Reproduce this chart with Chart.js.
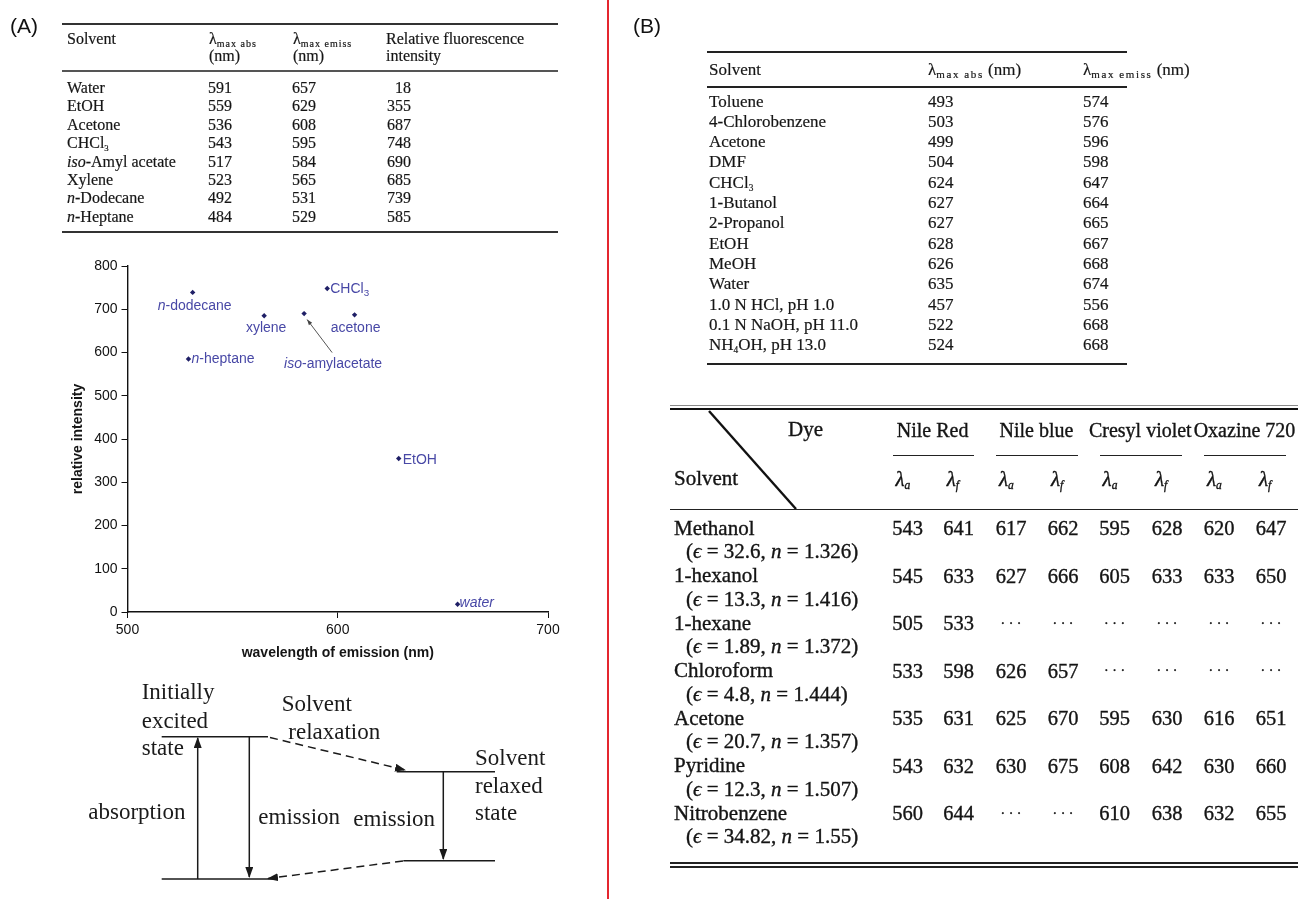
<!DOCTYPE html>
<html>
<head>
<meta charset="utf-8">
<title>Solvatochromism of Nile red type dyes</title>
<script src="https://cdn.jsdelivr.net/npm/chart.js@4.4.1/dist/chart.umd.min.js"></script>
<style>
  html, body { margin: 0; padding: 0; background: #fff; }
  body { position: relative; width: 1298px; height: 899px; overflow: hidden; color: #151515; font-family: "Liberation Serif", "Times New Roman", serif; }
  .t { position: absolute; white-space: nowrap; }
  .t sub { font-size: 0.55em; line-height: 0; vertical-align: -0.3em; }
  .t sub.wa { font-size: 10px; letter-spacing: 1px; vertical-align: -3px; }
  .t sub.wb { font-size: 11px; letter-spacing: 1.6px; vertical-align: -3px; }
  .heavy { -webkit-text-stroke: 0.35px #111; }
  .mid { -webkit-text-stroke: 0.2px #222; }
  .rule { position: absolute; }
  #chartBox { position: absolute; left: 40px; top: 250px; width: 530px; height: 420px; }
  #divider { position: absolute; left: 607px; top: 0; width: 2px; height: 899px; background: #e4262f; }
  svg { position: absolute; left: 0; top: 0; }
</style>
</head>
<body>
<div id="divider"></div>
<div id="chartBox"><canvas id="scatter"></canvas></div>

<svg width="1298" height="899" viewBox="0 0 1298 899">
  <defs>
    <marker id="head" markerWidth="11" markerHeight="8" refX="10" refY="4" orient="auto" markerUnits="userSpaceOnUse">
      <path d="M0,0 L11,4 L0,8 z" fill="#1a1a1a"/>
    </marker>
  </defs>
  <g stroke="#1a1a1a" stroke-width="1.5" fill="none">
    <path d="M161.7 736.7 H268"/>
    <path d="M161.7 879 H273"/>
    <path d="M396.7 771.7 H495"/>
    <path d="M403.3 860.7 H495"/>
    <path d="M197.7 879 V738" marker-end="url(#head)"/>
    <path d="M249.3 737 V877" marker-end="url(#head)"/>
    <path d="M443.3 771.7 V859" marker-end="url(#head)"/>
    <path d="M270 737.5 L405 770" stroke-dasharray="8 5" marker-end="url(#head)"/>
    <path d="M403 861 L268 878.5" stroke-dasharray="8 5" marker-end="url(#head)"/>
  </g>
  <g font-family="Liberation Serif, Times New Roman, serif" font-size="23" fill="#1a1a1a" dominant-baseline="central">
    <text x="141.7" y="691.7">Initially</text>
    <text x="141.7" y="720">excited</text>
    <text x="141.7" y="747.3">state</text>
    <text x="281.7" y="703.3">Solvent</text>
    <text x="288.3" y="731">relaxation</text>
    <text x="88.3" y="811.7">absorption</text>
    <text x="258.3" y="816.7">emission</text>
    <text x="353.3" y="818.3">emission</text>
    <text x="475" y="757.3">Solvent</text>
    <text x="475" y="785">relaxed</text>
    <text x="475" y="812.7">state</text>
  </g>
</svg>

<script>
// ---- (A) table + scatter data ----
const solventsA = ['Water', 'EtOH', 'Acetone', 'CHCl<sub>3</sub>', '<i>iso</i>-Amyl acetate', 'Xylene', '<i>n</i>-Dodecane', '<i>n</i>-Heptane'];
const absA = [591, 559, 536, 543, 517, 523, 492, 484];
const emissA = [657, 629, 608, 595, 584, 565, 531, 529];
const intensityA = [18, 355, 687, 748, 690, 685, 739, 585];
// labels on the scatter (*..* = italic, _x = subscript)
const pointLabels = ['*water*', 'EtOH', 'acetone', 'CHCl_3', '*iso*-amylacetate', 'xylene', '*n*-dodecane', '*n*-heptane'];
const xRange = [500, 700, 100];
const yRange = [0, 800, 100];

// ---- (B) first table ----
const solventsB = ['Toluene', '4-Chlorobenzene', 'Acetone', 'DMF', 'CHCl<sub>3</sub>', '1-Butanol', '2-Propanol', 'EtOH', 'MeOH', 'Water', '1.0 N HCl, pH 1.0', '0.1 N NaOH, pH 11.0', 'NH<sub>4</sub>OH, pH 13.0'];
const absB = [493, 503, 499, 504, 624, 627, 627, 628, 626, 635, 457, 522, 524];
const emissB = [574, 576, 596, 598, 647, 664, 665, 667, 668, 674, 556, 668, 668];

// ---- (B) second table ----
const dyes = ['Nile Red', 'Nile blue', 'Cresyl violet', 'Oxazine 720'];
const solventsC = ['Methanol', '1-hexanol', '1-hexane', 'Chloroform', 'Acetone', 'Pyridine', 'Nitrobenzene'];
const epsC = [32.6, 13.3, 1.89, 4.8, 20.7, 12.3, 34.82];
const nC = [1.326, 1.416, 1.372, 1.444, 1.357, 1.507, 1.55];
const nileRedA = [543, 545, 505, 533, 535, 543, 560];
const nileRedF = [641, 633, 533, 598, 631, 632, 644];
const nileBlueA = [617, 627, null, 626, 625, 630, null];
const nileBlueF = [662, 666, null, 657, 670, 675, null];
const cresylA = [595, 605, null, null, 595, 608, 610];
const cresylF = [628, 633, null, null, 630, 642, 638];
const oxazineA = [620, 633, null, null, 616, 630, 632];
const oxazineF = [647, 650, null, null, 651, 660, 655];

const SERIF = '"Liberation Serif", "Times New Roman", serif';
const SANS = '"Liberation Sans", Arial, sans-serif';

function put(x, yc, html, o) {
  o = o || {};
  const size = o.size || 15;
  const d = document.createElement('div');
  d.className = 't' + (o.cls ? ' ' + o.cls : '');
  d.style.font = (o.style || '') + ' ' + (o.weight || 'normal') + ' ' + size + 'px ' + (o.family || SERIF);
  d.style.lineHeight = (size * 1.2) + 'px';
  d.style.left = x + 'px';
  d.style.top = (yc - size * 0.6) + 'px';
  if (o.align === 'center') d.style.transform = 'translateX(-50%)';
  if (o.align === 'right') d.style.transform = 'translateX(-100%)';
  if (o.color) d.style.color = o.color;
  d.innerHTML = html;
  document.body.appendChild(d);
  return d;
}

function rule(x, y, w, h, color) {
  const d = document.createElement('div');
  d.className = 'rule';
  d.style.left = x + 'px';
  d.style.top = (y - h / 2) + 'px';
  d.style.width = w + 'px';
  d.style.height = h + 'px';
  d.style.background = color || '#222';
  document.body.appendChild(d);
}

// panel letters
put(10, 26, '(A)', { size: 21, family: SANS, color: '#111' });
put(633, 26, '(B)', { size: 21, family: SANS, color: '#111' });

// ---- table A ----
rule(62, 24, 496, 1.6, '#333');
rule(62, 71, 496, 1.3, '#555');
rule(62, 232, 496, 2, '#333');
const A = { size: 16, cls: 'mid' };
put(67, 39, 'Solvent', A);
put(209, 39, 'λ<sub class="wa">max abs</sub>', A);
put(209, 56, '(nm)', A);
put(293, 39, 'λ<sub class="wa">max emiss</sub>', A);
put(293, 56, '(nm)', A);
put(386, 39, 'Relative fluorescence', A);
put(386, 56, 'intensity', A);
solventsA.forEach((s, i) => {
  const y = 87.5 + i * 18.4;
  put(67, y, s, A);
  put(208, y, String(absA[i]), A);
  put(292, y, String(emissA[i]), A);
  put(411, y, String(intensityA[i]), { size: 16, cls: 'mid', align: 'right' });
});

// ---- table B (top) ----
rule(707, 52, 420, 2, '#222');
rule(707, 87, 420, 2, '#222');
rule(707, 364, 420, 2, '#222');
const B = { size: 17, cls: 'mid' };
put(709, 70, 'Solvent', B);
put(928, 70, 'λ<sub class="wb">max abs</sub> (nm)', B);
put(1083, 70, 'λ<sub class="wb">max emiss</sub> (nm)', B);
solventsB.forEach((s, i) => {
  const y = 101.7 + i * 20.3;
  put(709, y, s, B);
  put(928, y, String(absB[i]), B);
  put(1083, y, String(emissB[i]), B);
});

// ---- table B (bottom) ----
const colC = [907.5, 958.7, 1011, 1063, 1114.6, 1167, 1219, 1271];
const dyeCols = [nileRedA, nileRedF, nileBlueA, nileBlueF, cresylA, cresylF, oxazineA, oxazineF];
const C = { size: 21, cls: 'heavy' };
rule(670, 405.5, 628, 1, '#8a8a8a');
rule(670, 409, 628, 2.6, '#111');
rule(670, 509.5, 628, 1.6, '#222');
rule(670, 862.5, 628, 2, '#222');
rule(670, 866.5, 628, 2, '#222');
put(788, 430, 'Dye', C);
put(674, 479, 'Solvent', C);
dyes.forEach((d, k) => {
  const c1 = colC[2 * k], c2 = colC[2 * k + 1];
  put((c1 + c2) / 2 - 0.5, 430, d, { size: 20, cls: 'heavy', align: 'center' });
  rule(c1 - 15, 455.7, c2 - c1 + 30, 1.4, '#222');
  put(c1 - 12, 480, '<i>λ<sub>a</sub></i>', C);
  put(c2 - 12, 480, '<i>λ<sub>f</sub></i>', C);
});
solventsC.forEach((s, i) => {
  const y = 528.3 + i * 47.5;
  put(674, y, s, C);
  put(686, y + 23.4, '(<i>ϵ</i> = ' + epsC[i] + ', <i>n</i> = ' + nC[i] + ')', C);
  dyeCols.forEach((col, j) => {
    const v = col[i];
    if (v === null) {
      put(colC[j], y + 1, '· · ·', { size: 14, cls: 'heavy', align: 'center' });
    } else {
      put(colC[j], y, String(v), { size: 20.5, cls: 'heavy', align: 'center' });
    }
  });
});

// diagonal in the header of the bottom table
const diag = document.createElementNS('http://www.w3.org/2000/svg', 'line');
diag.setAttribute('x1', 709); diag.setAttribute('y1', 411);
diag.setAttribute('x2', 796); diag.setAttribute('y2', 509);
diag.setAttribute('stroke', '#111'); diag.setAttribute('stroke-width', '2.4');
document.querySelector('svg').appendChild(diag);

// ---- scatter chart ----
Chart.defaults.font.family = SANS;

function drawRich(ctx, str, x, y, align, size) {
  // split "*iso*-amylacetate" / "CHCl_3" into styled pieces
  const parts = [];
  let italic = false, buf = '';
  for (let i = 0; i < str.length; i++) {
    const ch = str[i];
    if (ch === '*') { if (buf) parts.push({ t: buf, it: italic }); buf = ''; italic = !italic; }
    else if (ch === '_') { if (buf) parts.push({ t: buf, it: italic }); buf = ''; parts.push({ t: str[++i], sub: true }); }
    else buf += ch;
  }
  if (buf) parts.push({ t: buf, it: italic });
  const fontOf = p => (p.it ? 'italic ' : '') + (p.sub ? size * 0.7 : size) + 'px ' + SANS;
  let w = 0;
  parts.forEach(p => { ctx.font = fontOf(p); w += ctx.measureText(p.t).width; });
  let cx = align === 'center' ? x - w / 2 : x;
  parts.forEach(p => {
    ctx.font = fontOf(p);
    ctx.fillText(p.t, cx, p.sub ? y + size * 0.3 : y);
    cx += ctx.measureText(p.t).width;
  });
}

const labelPlugin = {
  id: 'pointLabels',
  afterDatasetsDraw(chart, args, opts) {
    const ctx = chart.ctx;
    const meta = chart.getDatasetMeta(0);
    ctx.save();
    ctx.fillStyle = opts.color;
    ctx.textBaseline = 'middle';
    ctx.textAlign = 'left';
    meta.data.forEach((pt, i) => {
      const p = opts.placement[i];
      drawRich(ctx, pointLabels[i], pt.x + p.dx, pt.y + p.dy, p.align, opts.size);
      if (p.arrow) {
        const [x1, y1, x2, y2] = p.arrow.map((v, k) => v + (k % 2 ? pt.y : pt.x));
        const a = Math.atan2(y2 - y1, x2 - x1);
        ctx.strokeStyle = '#555';
        ctx.fillStyle = '#444';
        ctx.lineWidth = 1;
        ctx.beginPath(); ctx.moveTo(x1, y1); ctx.lineTo(x2, y2); ctx.stroke();
        ctx.beginPath();
        ctx.moveTo(x2, y2);
        ctx.lineTo(x2 - 6 * Math.cos(a - 0.35), y2 - 6 * Math.sin(a - 0.35));
        ctx.lineTo(x2 - 6 * Math.cos(a + 0.35), y2 - 6 * Math.sin(a + 0.35));
        ctx.closePath(); ctx.fill();
        ctx.fillStyle = opts.color;
      }
    });
    ctx.restore();
  }
};

new Chart(document.getElementById('scatter'), {
  type: 'scatter',
  data: {
    datasets: [{
      data: emissA.map((x, i) => ({ x: x, y: intensityA[i] })),
      pointStyle: 'rectRot',
      pointRadius: 2.7,
      backgroundColor: '#1f1f66',
      borderWidth: 0
    }]
  },
  options: {
    responsive: true,
    maintainAspectRatio: false,
    animation: false,
    layout: { padding: { top: 16, right: 22, left: 0, bottom: 0 } },
    plugins: {
      legend: { display: false },
      tooltip: { enabled: false },
      pointLabels: {
        color: '#4848a6',
        size: 14,
        placement: [
          { dx: 2, dy: -1, align: 'left' },
          { dx: 4, dy: 2, align: 'left' },
          { dx: 1, dy: 13, align: 'center' },
          { dx: 3, dy: 1, align: 'left' },
          { dx: 29, dy: 51, align: 'center', arrow: [28, 39, 3, 6] },
          { dx: 2, dy: 12, align: 'center' },
          { dx: 2, dy: 14, align: 'center' },
          { dx: 3, dy: 0, align: 'left' }
        ]
      }
    },
    scales: {
      x: {
        type: 'linear',
        min: xRange[0], max: xRange[1],
        afterFit: s => { s.height = 58; },
        ticks: { stepSize: xRange[2], color: '#111', font: { size: 14 }, padding: 4 },
        grid: { drawOnChartArea: false, drawTicks: true, tickLength: 6, color: '#111' },
        border: { color: '#111', width: 1.4 },
        title: { display: true, text: 'wavelength of emission (nm)', color: '#151515', font: { size: 14, weight: 'bold' }, padding: { top: 0, bottom: 8.6 } }
      },
      y: {
        min: yRange[0], max: yRange[1],
        afterFit: s => { s.width = 87.5; },
        ticks: { stepSize: yRange[2], color: '#111', font: { size: 14 }, padding: 4 },
        grid: { drawOnChartArea: false, drawTicks: true, tickLength: 6, color: '#111' },
        border: { color: '#111', width: 1.4 },
        title: { display: true, text: 'relative intensity', color: '#151515', font: { size: 14, weight: 'bold' }, padding: { top: 29.6, bottom: 0 } }
      }
    }
  },
  plugins: [labelPlugin]
});
</script>
</body>
</html>
